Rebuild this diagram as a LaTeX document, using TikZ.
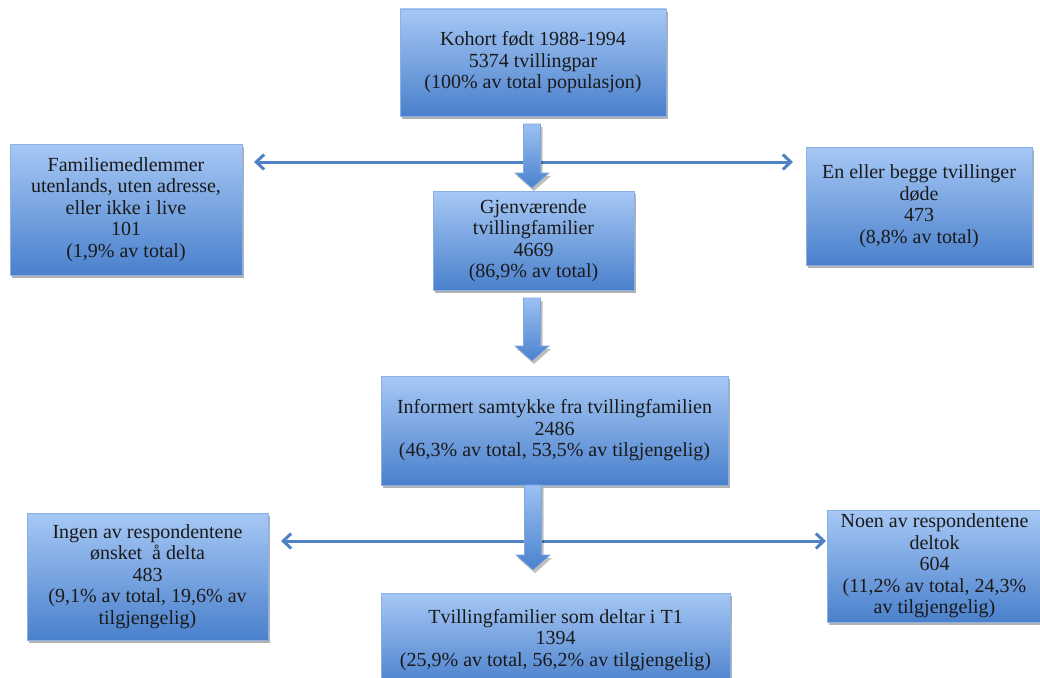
\documentclass[tikz,border=0pt]{standalone}
\usepackage{fontspec}
\setmainfont{Liberation Serif}
\usetikzlibrary{shadows,arrows.meta,calc}
\definecolor{boxtop}{HTML}{A6C8F5}
\definecolor{boxbot}{HTML}{4A80CC}
\definecolor{boxline}{HTML}{8CB0E2}
\definecolor{linkblue}{HTML}{4F82C4}
\definecolor{arrtop}{HTML}{9CC0F2}
\definecolor{arrbot}{HTML}{4A82CE}
\definecolor{arrline}{HTML}{7FA6DB}
\definecolor{txt}{HTML}{1A1A1A}
\tikzset{
  flowbox/.style={rectangle, draw=boxline, line width=0.8pt,
    top color=boxtop, bottom color=boxbot, align=center,
    font=\fontsize{20}{21.5}\selectfont, text=txt, inner sep=0pt,
    drop shadow={shadow xshift=2pt, shadow yshift=-3pt, fill=black, opacity=0.3}},
  sidelink/.style={draw=linkblue, line width=3pt,
    {Straight Barb[length=8pt,width=15pt]}-{Straight Barb[length=8pt,width=15pt]}},
  blockstyle/.style={draw=arrline, line width=0.6pt, top color=arrtop, bottom color=arrbot,
    drop shadow={shadow xshift=2pt, shadow yshift=-3pt, fill=black, opacity=0.25}}
}
\newcommand\downblock[2]{%
  \path[blockstyle] let \p1=(#1), \p2=(#2) in
    (\x1-8.5pt,\y1) -- (\x1+8.5pt,\y1) -- (\x1+8.5pt,\y2+15pt) -- (\x1+17pt,\y2+15pt)
    -- (\x1,\y2) -- (\x1-17pt,\y2+15pt) -- (\x1-8.5pt,\y2+15pt) -- cycle;}
\begin{document}
\begin{tikzpicture}[x=1pt,y=-1pt]
\useasboundingbox (0,0) rectangle (1040,677);
% boxes
\node[flowbox, minimum width=266, minimum height=107] (kohort) at (533,62.5)
  {Kohort født 1988-1994\\5374 tvillingpar\\(100\% av total populasjon)};
\node[flowbox, minimum width=232, minimum height=131] (utland) at (126,209.5)
  {Familiemedlemmer\\utenlands, uten adresse,\\eller ikke i live\\101\\(1,9\% av total)};
\node[flowbox, minimum width=226, minimum height=118] (dode) at (919,206)
  {En eller begge tvillinger\\døde\\473\\(8,8\% av total)};
\node[flowbox, minimum width=201, minimum height=99] (gjenv) at (533.5,240.5)
  {Gjenværende\\tvillingfamilier\\4669\\(86,9\% av total)};
\node[flowbox, minimum width=347, minimum height=109] (samt) at (554.5,430.5)
  {Informert samtykke fra tvillingfamilien\\2486\\(46,3\% av total, 53,5\% av tilgjengelig)};
\node[flowbox, minimum width=241, minimum height=127] (ingen) at (147.5,576.5)
  {Ingen av respondentene\\ønsket\ \ å delta\\483\\(9,1\% av total, 19,6\% av\\tilgjengelig)};
\node[flowbox, minimum width=215, minimum height=112] (noen) at (934.5,566)
  {Noen av respondentene\\deltok\\604\\(11,2\% av total, 24,3\%\\av tilgjengelig)};
\node[flowbox, minimum width=349, minimum height=94] (t1) at (555.5,640)
  {Tvillingfamilier som deltar i T1\\1394\\(25,9\% av total, 56,2\% av tilgjengelig)};
% connector ends
\coordinate (h1l) at (254,162);
\coordinate (h1r) at (793,162);
\coordinate (h2l) at (281,541);
\coordinate (h2r) at (826,541);
\coordinate (a1s) at (532,124);
\coordinate (a1e) at (532,188);
\coordinate (a2s) at (532,298);
\coordinate (a2e) at (532,361);
\coordinate (a3s) at (533,485);
\coordinate (a3e) at (533,570);
% side links
\draw[sidelink] (h1l) -- (h1r);
\draw[sidelink] (h2l) -- (h2r);
% block arrows
\downblock{a1s}{a1e}
\downblock{a2s}{a2e}
\downblock{a3s}{a3e}
\end{tikzpicture}
\end{document}
